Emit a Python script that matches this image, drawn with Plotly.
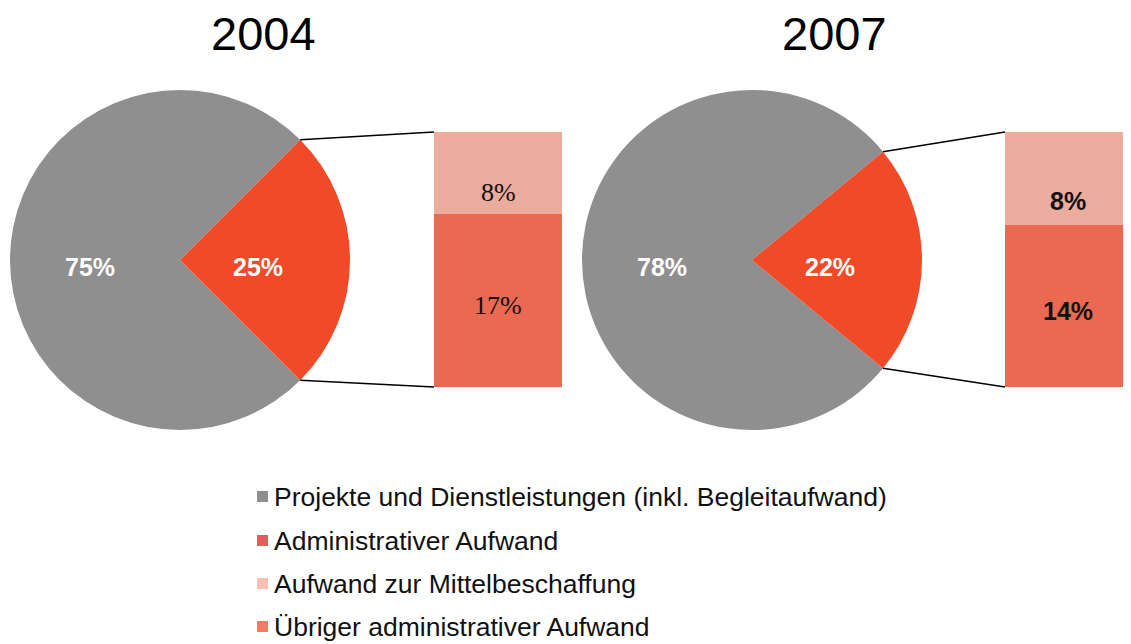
import math
import plotly.graph_objects as go

# ---------------- data ----------------
years = ["2004", "2007"]
pie_labels = ["Projekte und Dienstleistungen (inkl. Begleitaufwand)", "Administrativer Aufwand"]
projekte = [75, 78]
admin = [25, 22]
bar_labels = ["Übriger administrativer Aufwand", "Aufwand zur Mittelbeschaffung"]
uebriger = [17, 14]
mittelbeschaffung = [8, 8]

legend_labels = [
    "Projekte und Dienstleistungen (inkl. Begleitaufwand)",
    "Administrativer Aufwand",
    "Aufwand zur Mittelbeschaffung",
    "Übriger administrativer Aufwand",
]

# ---------------- styles / layout (screen pixels) ----------------
W, H = 1131, 644
OX, OY = 8, 8          # page body margin offset compensation
GRAY = "#8F8F8F"
RED = "#F04A28"
LIGHT = "#EBAB9D"
CORAL = "#EA6A51"
legend_colors = [GRAY, "#E35D5A", "#F8BFB4", "#F47C64"]

pie_centers = [(180, 260), (752, 260)]
pie_r = 170
bar_x = [(434, 562), (1005, 1131)]
bar_y = (132, 387)
title_x = [263, 834]
bar_font_family = ["Liberation Serif", "Arial"]
bar_font_size = [26, 25]
bar_text_weight = ["normal", "bold"]


def px(x):
    return (x - OX) / W


def py(y):
    return 1 - (y - OY) / H


fig = go.Figure()

for i, yr in enumerate(years):
    cx, cy = pie_centers[i]
    total = admin[i] + projekte[i]
    red_share = admin[i] / total
    rotation = 90 + red_share * 360 / 2
    fig.add_trace(go.Pie(
        labels=pie_labels,
        values=[projekte[i], admin[i]],
        sort=False,
        direction="clockwise",
        rotation=rotation,
        marker=dict(colors=[GRAY, RED], line=dict(width=0)),
        textinfo="none",
        domain=dict(x=[px(cx - pie_r), px(cx + pie_r)], y=[py(cy + pie_r), py(cy - pie_r)]),
        showlegend=False,
        hoverinfo="label+percent",
    ))
    # pie percentage labels along the slice bisectors
    for val, d, ang in [(projekte[i], 0.53, 180.0), (admin[i], 0.46, 0.0)]:
        a = math.radians(ang)
        lx = cx + d * pie_r * math.cos(a)
        ly = cy + 7
        fig.add_annotation(text=f"{round(100 * val / total)}%", x=px(lx), y=py(ly),
                           xref="paper", yref="paper", showarrow=False,
                           xanchor="center", yanchor="middle",
                           font=dict(family="Arial", size=25, color="white", weight="bold"))

    xa = "x" if i == 0 else "x2"
    ya = "y" if i == 0 else "y2"
    bfont = dict(family=bar_font_family[i], size=bar_font_size[i], color="#111", weight=bar_text_weight[i])
    fig.add_trace(go.Bar(
        x=[yr], y=[uebriger[i]], name=bar_labels[0], marker=dict(color=CORAL, line=dict(width=0)),
        width=1, textposition="none", xaxis=xa, yaxis=ya, showlegend=False,
    ))
    fig.add_trace(go.Bar(
        x=[yr], y=[mittelbeschaffung[i]], name=bar_labels[1], marker=dict(color=LIGHT, line=dict(width=0)),
        width=1, textposition="none", xaxis=xa, yaxis=ya, showlegend=False,
    ))
    for val, base, frac in [(uebriger[i], 0, 0.47), (mittelbeschaffung[i], uebriger[i], 0.26)]:
        fig.add_annotation(text=f"{val}%", x=0, y=base + frac * val,
                           xref=xa, yref=ya, showarrow=False, xanchor="center", yanchor="middle",
                           font=bfont)

    # connector lines from pie slice edges to bar corners
    half = red_share * 360 / 2
    for ang_deg, by in [(90 - half, bar_y[0]), (90 + half, bar_y[1])]:
        a = math.radians(ang_deg)
        ex = cx + pie_r * math.sin(a)
        ey = cy - pie_r * math.cos(a)
        fig.add_shape(type="line", xref="paper", yref="paper",
                      x0=px(ex), y0=py(ey), x1=px(bar_x[i][0]), y1=py(by),
                      line=dict(color="black", width=1.5), layer="above")

    fig.add_annotation(text=yr, x=px(title_x[i]), y=py(33), xref="paper", yref="paper",
                       showarrow=False, xanchor="center", yanchor="middle",
                       font=dict(family="Arial", size=47, color="black"))

axis_common = dict(visible=False, fixedrange=True)
fig.update_layout(
    width=W, height=H,
    margin=dict(l=0, r=0, t=0, b=0),
    paper_bgcolor="white", plot_bgcolor="rgba(0,0,0,0)",
    barmode="stack", bargap=0,
    xaxis=dict(type="category", domain=[px(bar_x[0][0]), min(1, px(bar_x[0][1]))], range=[-0.5, 0.5], **axis_common),
    yaxis=dict(domain=[py(bar_y[1]), py(bar_y[0])], range=[0, admin[0]], **axis_common),
    xaxis2=dict(type="category", domain=[px(bar_x[1][0]), min(1, px(bar_x[1][1]))], range=[-0.5, 0.5], anchor="y2", **axis_common),
    yaxis2=dict(domain=[py(bar_y[1]), py(bar_y[0])], range=[0, admin[1]], anchor="x2", **axis_common),
)

# legend (drawn as layout items)
leg_rows = [497, 541, 584, 627]
for lab, col, ry in zip(legend_labels, legend_colors, leg_rows):
    fig.add_shape(type="rect", xref="paper", yref="paper",
                  x0=px(257), x1=px(268), y0=py(ry + 5), y1=py(ry - 6),
                  fillcolor=col, line=dict(width=0))
    fig.add_annotation(text=lab, x=px(272), y=py(ry), xref="paper", yref="paper",
                       showarrow=False, xanchor="left", yanchor="middle",
                       font=dict(family="Arial", size=26.5, color="#111"))

fig.write_html("out.html")
